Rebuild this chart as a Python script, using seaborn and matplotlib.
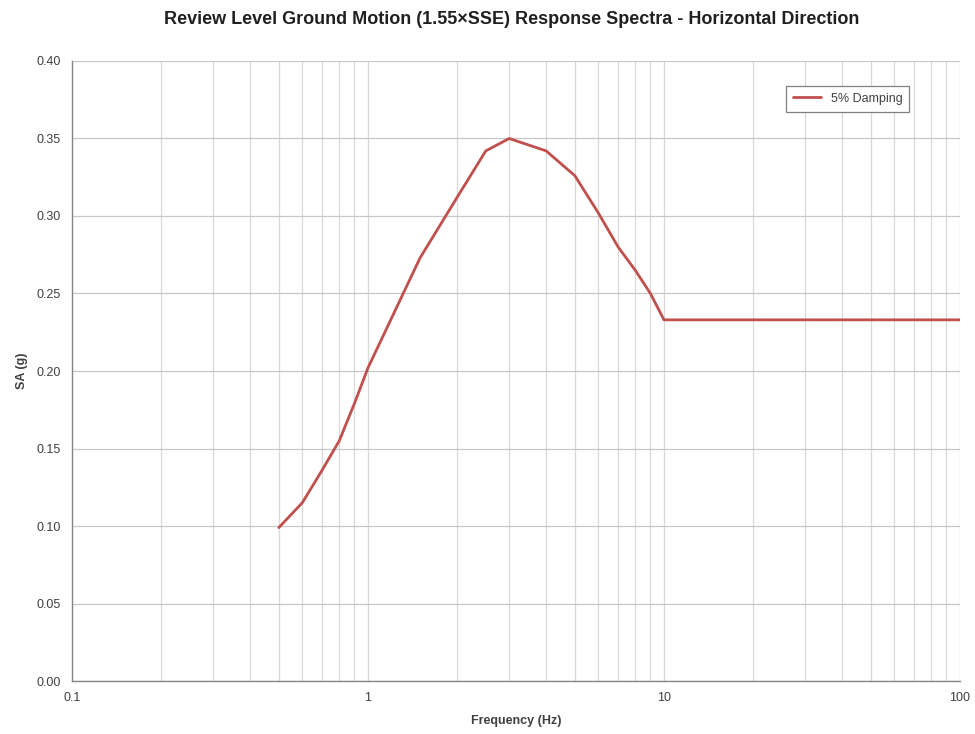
import numpy as np
import pandas as pd
import matplotlib
matplotlib.use('Agg')
import matplotlib.pyplot as plt
import matplotlib.ticker as mticker
import seaborn as sns

# spectrum values
freq = [0.5, 0.6, 0.7, 0.8, 0.9, 1.0, 1.5, 2.0, 2.5, 3.0, 4.0, 5.0, 6.0, 7.0, 8.0, 9.0, 10.0, 100.0]
sa = [0.099, 0.115, 0.136, 0.155, 0.179, 0.202, 0.273, 0.312, 0.342, 0.350, 0.342, 0.326, 0.302, 0.280, 0.265, 0.250, 0.233, 0.233]
series_name = '5% Damping'

df = pd.DataFrame({'Frequency': freq, 'SA': sa, 'Series': series_name})

sns.set_style('white')
plt.rcParams['font.family'] = ['Liberation Sans', 'DejaVu Sans']

fig = plt.figure(figsize=(9.75, 7.34), dpi=100)
ax = fig.add_axes([0.0738, 0.0722, 0.9108, 0.8447])

sns.lineplot(data=df, x='Frequency', y='SA', hue='Series', palette=['#C0504D'],
             linewidth=2.0, ax=ax)

ax.set_xscale('log')
ax.set_xlim(0.1, 100)
ax.set_ylim(0, 0.40)
ax.yaxis.set_major_locator(mticker.MultipleLocator(0.05))
ax.yaxis.set_major_formatter(mticker.FormatStrFormatter('%.2f'))
ax.xaxis.set_major_locator(mticker.FixedLocator([0.1, 1, 10, 100]))
ax.xaxis.set_major_formatter(mticker.FixedFormatter(['0.1', '1', '10', '100']))
ax.xaxis.set_minor_locator(mticker.LogLocator(base=10, subs=np.arange(2, 10)))
ax.xaxis.set_minor_formatter(mticker.NullFormatter())

ax.grid(True, which='both', axis='x', color='#d9d9d9', linewidth=0.9)
ax.grid(True, which='major', axis='y', color='#c8c8c8', linewidth=0.9)
ax.set_axisbelow(True)

for s in ['top', 'right']:
    ax.spines[s].set_visible(False)
for s in ['left', 'bottom']:
    ax.spines[s].set_color('#868686')
    ax.spines[s].set_linewidth(1.0)

ax.tick_params(axis='both', which='major', labelsize=9, colors='#404040', length=0, pad=8)
ax.tick_params(axis='both', which='minor', length=0)
for lab in ax.get_xticklabels() + ax.get_yticklabels():
    lab.set_color('#404040')

ax.set_xlabel('Frequency (Hz)', fontsize=9, fontweight='bold', color='#404040', labelpad=8)
ax.set_ylabel('SA (g)', fontsize=9, fontweight='bold', color='#404040', labelpad=6)
fig.suptitle('Review Level Ground Motion (1.55\u00d7SSE) Response Spectra - Horizontal Direction',
             fontsize=13, fontweight='bold', color='#202020', x=0.525, y=0.985)

leg = ax.legend(loc='upper right', bbox_to_anchor=(0.95, 0.97), fontsize=9, frameon=True,
                fancybox=False, edgecolor='#808080', framealpha=1, handlelength=2.2,
                borderpad=0.55, title=None)
leg.get_frame().set_linewidth(0.9)
for t in leg.get_texts():
    t.set_color('#404040')

fig.savefig('out.png', dpi=100)
